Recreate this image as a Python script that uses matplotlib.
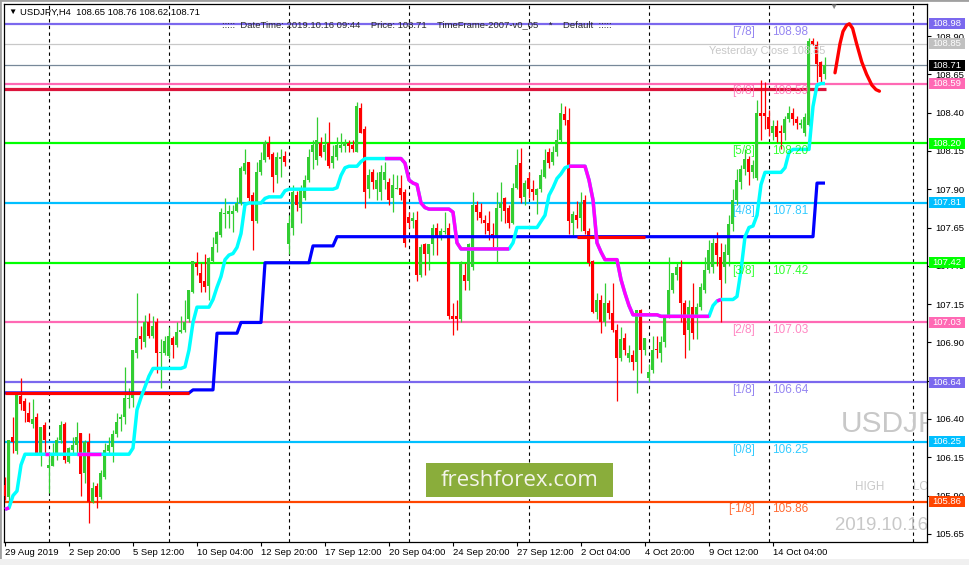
import numpy as np
import matplotlib.pyplot as plt
import matplotlib.transforms as mtransforms
from matplotlib.patches import Rectangle

plt.rcParams['font.family'] = ['Liberation Sans', 'DejaVu Sans']

W, H, DPI = 970, 565, 100

# ── USDJPY H4 candles ───────────────────────────────────────────────────────
opens = [
    105.97, 105.89, 106.28, 106.19, 106.55, 106.52, 106.44, 106.37, 106.41, 106.18,
    106.36, 106.08, 106.09, 106.18, 106.26, 106.37, 106.12, 106.20, 106.23, 106.31,
    106.05, 106.25, 105.86, 105.96, 105.89, 106.02, 106.19, 106.22, 106.30, 106.40,
    106.41, 106.53, 106.54, 106.83, 106.94, 106.90, 107.03, 106.94, 107.03, 106.83,
    106.83, 106.81, 106.93, 106.88, 106.97, 106.98, 107.05, 107.23, 107.42, 107.35,
    107.30, 107.27, 107.43, 107.54, 107.60, 107.74, 107.74, 107.74, 107.76, 107.81,
    108.02, 108.08, 107.86, 107.69, 108.01, 108.09, 108.20, 108.13, 107.99, 108.10,
    108.12, 107.54, 107.65, 107.86, 107.78, 107.84, 107.96, 108.14, 108.09, 108.20,
    108.14, 108.20, 108.07, 108.11, 108.17, 108.18, 108.20, 108.19, 108.14, 108.43,
    108.29, 107.90, 108.01, 107.90, 107.88, 107.96, 107.95, 107.84, 107.90, 107.91,
    107.88, 107.72, 107.69, 107.70, 107.34, 107.54, 107.48, 107.54, 107.65, 107.59,
    107.62, 107.65, 107.07, 107.07, 107.05, 107.34, 107.30, 107.39, 107.80, 107.75,
    107.70, 107.68, 107.61, 107.59, 107.78, 107.84, 107.78, 107.68, 107.91, 108.07,
    107.85, 107.97, 107.90, 107.86, 107.90, 107.98, 108.14, 108.08, 108.14, 108.22,
    108.39, 108.35, 107.68, 107.73, 107.71, 107.83, 107.63, 107.43, 107.10, 107.18,
    107.03, 107.16, 107.09, 106.98, 106.80, 106.93, 106.80, 106.82, 106.77, 107.11,
    106.85, 106.67, 106.72, 106.86, 106.83, 106.90, 107.08, 107.24, 107.34, 107.39,
    107.16, 106.98, 107.13, 107.06, 107.13, 107.24, 107.37, 107.39, 107.55, 107.46,
    107.39, 107.47, 107.67, 107.83, 107.95, 108.03, 108.10, 108.01, 107.97, 108.40,
    108.40, 108.37, 108.27, 108.31, 108.28, 108.27, 108.36, 108.40, 108.36, 108.32,
    108.27, 108.32, 108.87, 108.84, 108.73, 108.65,
]
highs = [
    106.02, 106.26, 106.41, 106.57, 106.67, 106.54, 106.51, 106.53, 106.44, 106.35,
    106.38, 106.17, 106.24, 106.28, 106.39, 106.38, 106.22, 106.28, 106.38, 106.31,
    106.26, 106.31, 105.99, 105.98, 106.07, 106.24, 106.28, 106.33, 106.44, 106.43,
    106.74, 106.60, 106.85, 107.22, 107.01, 107.08, 107.09, 107.07, 107.06, 106.92,
    106.94, 107.00, 106.94, 107.03, 107.07, 107.18, 107.24, 107.43, 107.49, 107.42,
    107.48, 107.46, 107.59, 107.63, 107.78, 107.84, 107.80, 107.80, 107.85, 108.05,
    108.16, 108.08, 107.88, 108.08, 108.14, 108.22, 108.25, 108.14, 108.14, 108.16,
    108.15, 107.73, 107.93, 107.89, 107.93, 107.99, 108.16, 108.22, 108.37, 108.24,
    108.27, 108.34, 108.19, 108.24, 108.27, 108.23, 108.22, 108.22, 108.47, 108.46,
    108.31, 108.03, 108.03, 108.01, 108.06, 108.08, 107.97, 108.00, 107.99, 107.99,
    107.90, 107.75, 107.75, 107.76, 107.54, 107.55, 107.54, 107.67, 107.68, 107.65,
    107.75, 107.68, 107.16, 107.18, 107.43, 107.42, 107.55, 107.88, 107.82, 107.81,
    107.73, 107.76, 107.68, 107.88, 107.95, 107.85, 107.80, 107.94, 108.16, 108.17,
    107.96, 108.01, 107.96, 107.91, 108.03, 108.16, 108.17, 108.18, 108.29, 108.46,
    108.44, 108.43, 107.76, 107.82, 107.88, 107.86, 107.65, 107.44, 107.22, 107.21,
    107.29, 107.18, 107.29, 107.02, 107.00, 106.96, 106.88, 106.85, 107.11, 107.12,
    106.93, 106.76, 106.94, 106.94, 106.94, 107.08, 107.46, 107.35, 107.42, 107.44,
    107.18, 107.18, 107.29, 107.16, 107.29, 107.46, 107.57, 107.58, 107.62, 107.55,
    107.54, 107.73, 107.90, 108.03, 108.06, 108.16, 108.12, 108.09, 108.48, 108.61,
    108.60, 108.42, 108.35, 108.35, 108.32, 108.38, 108.44, 108.43, 108.38, 108.36,
    108.40, 108.89, 108.89, 108.87, 108.74, 108.76,
]
lows = [
    105.87, 105.85, 106.18, 106.17, 106.46, 106.38, 106.38, 106.34, 106.17, 106.09,
    106.17, 105.92, 106.09, 106.13, 106.24, 106.11, 106.11, 106.18, 106.18, 105.90,
    105.98, 105.72, 105.85, 105.82, 105.88, 106.01, 106.18, 106.12, 106.28, 106.32,
    106.37, 106.47, 106.48, 106.80, 106.86, 106.87, 106.93, 106.93, 106.70, 106.60,
    106.82, 106.80, 106.80, 106.87, 106.96, 106.97, 107.03, 107.22, 107.34, 107.23,
    107.23, 107.18, 107.42, 107.49, 107.59, 107.65, 107.65, 107.62, 107.75, 107.80,
    108.00, 107.82, 107.50, 107.68, 107.99, 108.08, 108.10, 107.88, 107.94, 107.98,
    108.05, 107.48, 107.60, 107.76, 107.68, 107.83, 107.95, 108.03, 108.06, 108.11,
    108.09, 108.04, 108.04, 108.09, 108.14, 108.14, 108.14, 108.14, 108.14, 108.27,
    107.78, 107.84, 107.90, 107.83, 107.83, 107.90, 107.80, 107.75, 107.90, 107.83,
    107.52, 107.65, 107.65, 107.30, 107.33, 107.34, 107.37, 107.47, 107.47, 107.57,
    107.61, 107.05, 106.95, 106.98, 107.03, 107.24, 107.24, 107.37, 107.70, 107.68,
    107.61, 107.57, 107.52, 107.42, 107.69, 107.68, 107.65, 107.67, 107.90, 107.81,
    107.80, 107.84, 107.83, 107.74, 107.88, 107.97, 108.04, 108.06, 108.12, 108.20,
    108.32, 107.61, 107.60, 107.65, 107.63, 107.61, 107.40, 107.09, 107.05, 106.96,
    107.01, 107.05, 106.97, 106.52, 106.78, 106.82, 106.77, 106.72, 106.57, 106.70,
    106.82, 106.64, 106.70, 106.80, 106.77, 106.87, 107.06, 107.22, 107.31, 107.03,
    106.80, 106.85, 106.92, 106.92, 107.11, 107.22, 107.35, 107.35, 107.40, 107.03,
    107.29, 107.40, 107.63, 107.80, 107.90, 107.99, 107.93, 107.97, 107.96, 108.22,
    108.29, 108.25, 108.22, 108.21, 108.16, 108.22, 108.34, 108.32, 108.29, 108.30,
    108.25, 108.31, 108.84, 108.60, 108.60, 108.62,
]
closes = [
    105.90, 106.26, 106.25, 106.57, 106.50, 106.45, 106.38, 106.40, 106.18, 106.35,
    106.26, 106.10, 106.18, 106.26, 106.36, 106.13, 106.21, 106.23, 106.28, 106.04,
    106.25, 105.86, 105.95, 105.89, 106.05, 106.20, 106.23, 106.30, 106.38, 106.41,
    106.54, 106.54, 106.85, 106.93, 106.92, 107.03, 106.94, 107.01, 106.83, 106.84,
    106.91, 106.94, 106.88, 106.97, 106.98, 107.03, 107.24, 107.43, 107.39, 107.29,
    107.26, 107.45, 107.52, 107.62, 107.75, 107.745, 107.76, 107.76, 107.81, 108.04,
    108.07, 107.84, 107.69, 108.01, 108.09, 108.21, 108.11, 107.98, 108.11, 108.11,
    108.08, 107.68, 107.88, 107.80, 107.90, 107.96, 108.11, 108.19, 108.22, 108.12,
    108.19, 108.05, 108.12, 108.19, 108.19, 108.20, 108.18, 108.16, 108.44, 108.27,
    107.88, 107.99, 107.95, 107.96, 108.01, 108.01, 107.83, 107.93, 107.91, 107.86,
    107.55, 107.68, 107.71, 107.34, 107.52, 107.48, 107.54, 107.65, 107.59, 107.63,
    107.63, 107.07, 107.05, 107.05, 107.42, 107.30, 107.54, 107.80, 107.75, 107.71,
    107.68, 107.63, 107.58, 107.78, 107.81, 107.76, 107.68, 107.91, 108.06, 107.84,
    107.94, 107.90, 107.88, 107.90, 107.99, 108.09, 108.07, 108.14, 108.22, 108.40,
    108.35, 107.69, 107.74, 107.70, 107.81, 107.63, 107.42, 107.10, 107.18, 107.03,
    107.16, 107.09, 106.98, 106.80, 106.92, 106.85, 106.83, 106.77, 107.11, 106.85,
    106.93, 106.71, 106.85, 106.85, 106.90, 107.08, 107.24, 107.35, 107.39, 107.16,
    106.95, 107.13, 106.96, 107.13, 107.26, 107.37, 107.50, 107.55, 107.47, 107.31,
    107.49, 107.67, 107.83, 107.96, 108.03, 108.10, 108.01, 108.06, 108.40, 108.38,
    108.38, 108.29, 108.31, 108.24, 108.27, 108.36, 108.40, 108.36, 108.33, 108.33,
    108.37, 108.87, 108.85, 108.72, 108.63, 108.71,
]

# fast trailing line (cyan up / magenta down) as (value, bars) runs
fast_runs = [
    (105.81, 1), (105.82, 1), (105.90, 1), (105.93, 1), (106.10, 1), (106.17, 27),
    (106.21, 1), (106.46, 1), (106.54, 1), (106.61, 1), (106.68, 1), (106.73, 8),
    (106.74, 1), (106.85, 1), (107.03, 1), (107.13, 4), (107.18, 1), (107.26, 1),
    (107.33, 1), (107.44, 1), (107.47, 1), (107.48, 1), (107.52, 1), (107.61, 1),
    (107.80, 1), (107.81, 4), (107.84, 1), (107.85, 4), (107.89, 1), (107.90, 12),
    (107.91, 1), (107.99, 1), (108.04, 1), (108.05, 3), (108.08, 1), (108.10, 10),
    (108.07, 1), (107.96, 1), (107.94, 1), (107.93, 1), (107.81, 1), (107.78, 1),
    (107.77, 6), (107.75, 1), (107.55, 1), (107.51, 13), (107.55, 1), (107.65, 6),
    (107.69, 1), (107.73, 1), (107.86, 1), (107.91, 1), (107.97, 1), (108.00, 1),
    (108.04, 1), (108.05, 5), (107.96, 1), (107.83, 1), (107.55, 1), (107.49, 1),
    (107.44, 4), (107.31, 1), (107.22, 1), (107.14, 1), (107.08, 7), (107.07, 13),
    (107.14, 1), (107.17, 1), (107.18, 4), (107.20, 1), (107.37, 1), (107.59, 1),
    (107.65, 1), (107.66, 1), (107.73, 1), (107.93, 1), (108.01, 5), (108.04, 1),
    (108.14, 1), (108.16, 5), (108.44, 1), (108.58, 1), (108.59, 2),
]
fast_down = [(0, 1), (10, 11), (18, 24), (95, 126), (141, 176), (178, 179)]

# slow trailing line (blue up / red down)
slow_runs = [
    (106.57, 47), (106.59, 6), (106.96, 6), (107.03, 6), (107.42, 12),
    (107.53, 6), (107.59, 120), (107.94, 3),
]
slow_down = [(0, 46), (143, 160)]

# Murrey math levels
mm_levels = [108.98, 108.59, 108.20, 107.81, 107.42, 107.03, 106.64, 106.25, 105.86]
mm_tags = ['[7/8]', '[6/8]', '[5/8]', '[4/8]', '[3/8]', '[2/8]', '[1/8]', '[0/8]', '[-1/8]']
mm_colors = ['#7B68EE', '#FF69B4', '#00FF00', '#00BFFF', '#00FF00',
             '#FF69B4', '#7B68EE', '#00BFFF', '#FF4500']

yesterday_close = 108.85
bid = 108.71
red_level = 108.555

# hand drawn forecast curve
fc_x = [207.5, 207.9, 208.75, 209.5, 210.4, 211.1, 211.9, 212.9, 214.2, 215.4, 216.7, 217.75, 218.6]
fc_y = [108.66, 108.72, 108.85, 108.93, 108.97, 108.98, 108.95, 108.85, 108.73,
        108.65, 108.58, 108.55, 108.54]

week_seps = [11, 41, 71, 101, 131, 161, 191, 227]
date_ticks = [0, 16, 32, 48, 64, 80, 96, 112, 128, 144, 160, 176, 192]
date_labels = ['29 Aug 2019', '2 Sep 20:00', '5 Sep 12:00', '10 Sep 04:00', '12 Sep 20:00',
               '17 Sep 12:00', '20 Sep 04:00', '24 Sep 20:00', '27 Sep 12:00',
               '2 Oct 04:00', '4 Oct 20:00', '9 Oct 12:00', '14 Oct 04:00']
price_ticks = [105.65, 105.90, 106.15, 106.40, 106.65, 106.90, 107.15, 107.40,
               107.65, 107.90, 108.15, 108.40, 108.65, 108.90]

box_prices = [108.98, 108.85, 108.71, 108.59, 108.20, 107.81, 107.42, 107.03,
              106.64, 106.25, 105.86]
box_colors = ['#7B68EE', '#C0C0C0', '#000000', '#FF69B4', '#00FF00', '#00BFFF',
              '#00FF00', '#FF69B4', '#7B68EE', '#00BFFF', '#FF4500']


def px(x, y):
    return x / W, 1 - y / H


def main():
    o, h, l, c = (np.array(a) for a in (opens, highs, lows, closes))
    x = np.arange(len(c))
    fast = np.repeat([v for v, n in fast_runs], [n for v, n in fast_runs])
    slow = np.repeat([v for v, n in slow_runs], [n for v, n in slow_runs])

    fig = plt.figure(figsize=(W / DPI, H / DPI), dpi=DPI)
    fig.patch.set_facecolor('white')
    ax = fig.add_axes([4 / W, 23 / H, 923 / W, 538 / H])
    ax.set_xlim(-0.25, 230.5)
    ax.set_ylim(105.597, 109.109)

    # week separators
    for b in week_seps:
        ax.axvline(b, color='black', lw=0.8, ls=(0, (3, 3)), zorder=1)

    # levels
    for lvl, col in zip(mm_levels, mm_colors):
        ax.axhline(lvl, color=col, lw=1.6, zorder=2)
    ax.axhline(yesterday_close, color='#C8C8C8', lw=0.9, zorder=2)
    ax.axhline(bid, color='#778899', lw=0.9, zorder=2)
    ax.plot([-0.25, 205.25], [red_level, red_level], color='#DC143C', lw=2.3, zorder=2,
            solid_capstyle='butt')

    # candles
    up = c >= o
    cols = np.where(up, '#32CD32', '#FF0000')
    ax.vlines(x, l, h, colors=cols, lw=0.9, zorder=3)
    body = np.maximum(np.abs(c - o), 0.006)
    ax.bar(x, body, bottom=np.minimum(o, c), width=0.75, color=cols, lw=0, zorder=3)

    # trailing lines
    ax.plot(x, slow, color='#0000FF', lw=2.3, zorder=4, solid_capstyle='butt')
    for a, b in slow_down:
        ax.plot(x[a:b + 1], slow[a:b + 1], color='#FF0000', lw=2.3, zorder=4,
                solid_capstyle='butt')
    ax.plot(x, fast, color='#00FFFF', lw=2.5, zorder=5, solid_capstyle='butt')
    for a, b in fast_down:
        ax.plot(x[a:b + 1], fast[a:b + 1], color='#FF00FF', lw=2.5, zorder=5,
                solid_capstyle='butt')

    # forecast
    ax.plot(fc_x, fc_y, color='#FF0000', lw=2.4, zorder=6, solid_capstyle='round')

    # level captions
    for lvl, tag, col in zip(mm_levels, mm_tags, mm_colors):
        ax.annotate(tag, xy=(187.5, lvl), xytext=(0, -5.6), textcoords='offset points',
                    ha='right', va='center', color=col, fontsize=8.5, alpha=0.8, zorder=7)
        ax.annotate(f'{lvl:.2f}', xy=(191.8, lvl), xytext=(0, -5.6), textcoords='offset points',
                    ha='left', va='center', color=col, fontsize=8.5, alpha=0.8, zorder=7)
    ax.annotate(f'Yesterday Close {yesterday_close:.2f}', xy=(205, yesterday_close),
                xytext=(0, -5.6), textcoords='offset points', ha='right', va='center',
                color='#C8C8C8', fontsize=7.9, zorder=7)

    # watermarks inside chart
    tr = ax.transAxes
    ax.text((841 - 4) / 923, (542 - 424) / 538, 'USDJPY', transform=tr, fontsize=21.5,
            color='#C8C8C8', ha='left', va='center', clip_on=True, zorder=1)
    ax.text((855 - 4) / 923, (542 - 487) / 538, 'HIGH', transform=tr, fontsize=8.4,
            color='#C8C8C8', ha='left', va='center', clip_on=True, zorder=1)
    ax.text((913 - 4) / 923, (542 - 487) / 538, 'LOW', transform=tr, fontsize=8.4,
            color='#C8C8C8', ha='left', va='center', clip_on=True, zorder=1)
    ax.text((835 - 4) / 923, (542 - 525) / 538, '2019.10.16 09:44', transform=tr,
            fontsize=13.4, color='#C8C8C8', ha='left', va='center', clip_on=True, zorder=1)

    # freshforex badge
    bx0, by0 = (426 - 4) / 923, (542 - 497) / 538
    ax.add_patch(Rectangle((bx0, by0), 187 / 923, 34 / 538, transform=tr,
                           fc='#8AAD3B', ec='none', zorder=8))
    ax.text((519.5 - 4) / 923, (542 - 481) / 538, 'freshforex.com', transform=tr,
            fontsize=16, color='#F4F4EA', ha='center', va='center', zorder=9,
            family=['Open Sans', 'DejaVu Sans'])

    # axes style
    for s in ax.spines.values():
        s.set_color('black')
        s.set_linewidth(0.9)
    ax.yaxis.tick_right()
    ax.set_yticks(price_ticks)
    ax.set_yticklabels([f'{p:.2f}' for p in price_ticks])
    ax.set_xticks(date_ticks)
    ax.set_xticklabels(date_labels, ha='left')
    ax.tick_params(axis='both', direction='out', length=3, width=0.8, labelsize=6.8,
                   colors='black', pad=1.5)
    ax.tick_params(axis='y', pad=3)

    # price boxes on the scale
    btr = mtransforms.blended_transform_factory(ax.transAxes, ax.transData)
    bh = 11 / 538 * (109.109 - 105.597)
    for p, col in zip(box_prices, box_colors):
        ax.add_patch(Rectangle((1.0022, p - bh / 2), 36 / 923, bh, transform=btr,
                               fc=col, ec='none', clip_on=False, zorder=10))
        ax.text(1.0022 + 18 / 923, p, f'{p:.2f}', transform=btr, ha='center', va='center',
                fontsize=6.8, color='white', clip_on=False, zorder=11)

    # header texts
    fig.text(*px(8, 12.5), '\u25bc', fontsize=6, color='black', va='center', ha='left')
    fig.text(*px(20, 12), 'USDJPY,H4  108.65 108.76 108.62 108.71', fontsize=6.8,
             color='black', va='center', ha='left')
    fig.text(*px(417, 25), ':::::  DateTime: 2019.10.16 09:44    Price: 108.71    '
             'TimeFrame-2007-v0_05    *    Default  :::::', fontsize=6.8,
             color='#2A2A2A', va='center', ha='center')
    fig.text(*px(833, 7), '\u25bc', fontsize=6, color='#808080', va='center', ha='center')

    # window frame
    fig.add_artist(Rectangle((0, 0), 1, 1, transform=fig.transFigure, fill=False,
                             ec='#A0A0A0', lw=2))
    fig.add_artist(Rectangle((0, 0), 1, 6 / H, transform=fig.transFigure,
                             fc='#F0F0F0', ec='none'))

    fig.savefig('out.png', dpi=DPI)


if __name__ == '__main__':
    main()
